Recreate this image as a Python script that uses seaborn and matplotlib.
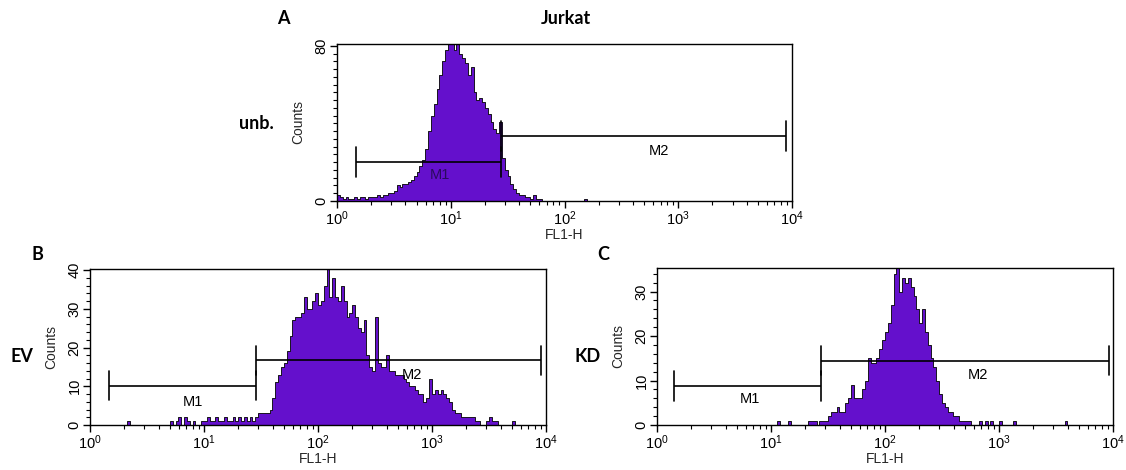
import numpy as np
import pandas as pd
import matplotlib
matplotlib.use("Agg")
import matplotlib.pyplot as plt
import seaborn as sns
from matplotlib.ticker import LogLocator, NullFormatter, FixedLocator, MultipleLocator

# ---------------- data (counts per log channel, 0.025 decade per channel, 10^0 .. 10^4) -------------
BIN_WIDTH = 0.025
N_BINS = 160

A_counts = ([3, 2, 1, 2, 1, 1, 2, 1, 2, 2,
             1, 2, 2, 2, 3, 2, 3, 3, 4, 4,
             5, 8, 7, 9, 9, 10, 11, 13, 15, 18,
             21, 27, 36, 44, 50, 58, 65, 72, 78, 82,
             81, 78, 82, 76, 74, 71, 65, 69, 56, 52,
             53, 51, 48, 45, 41, 37, 35, 41, 22, 16,
             13, 9, 6, 4, 3, 3, 2, 2, 1, 3,
             1, 1] + [0] * 15 + [1] + [0] * 72)

B_counts = ([0] * 13 + [1] + [0] * 14 +
            [1, 0, 1, 2, 0, 2, 1, 0, 1, 0, 0, 1,
             1, 2, 1, 1, 2, 1, 1, 2, 1, 1,
             2, 1, 2, 1, 2, 1, 2, 1, 2, 3,
             3, 3, 3, 4, 7, 11, 13, 15, 16, 19,
             23, 27, 28, 28, 29, 33, 30, 30, 32, 34,
             31, 32, 36, 41, 33, 38, 33, 32, 36, 32,
             28, 29, 31, 28, 25, 24, 27, 18, 15, 14,
             28, 16, 15, 15, 18, 14, 14, 13, 13, 13,
             12, 11, 10, 10, 9, 8, 8, 6, 7, 12,
             8, 9, 8, 9, 8, 7, 6, 4, 3, 3,
             2, 2, 2, 2, 2, 1, 1, 0, 0, 1,
             2, 1, 1, 0, 0, 0, 0, 0, 1, 0] + [0] * 10)

C_counts = ([0] * 42 + [1, 0, 0, 0, 1] + [0] * 6 +
            [1, 1, 1, 0, 1, 1, 1,
             2, 3, 3, 4, 3, 3, 5, 6, 9, 6,
             6, 6, 8, 10, 15, 14, 14, 15, 17, 19,
             21, 23, 27, 34, 36, 30, 33, 32, 33, 31,
             29, 26, 23, 26, 21, 18, 15, 13, 10, 7,
             5, 4, 3, 3, 2, 2, 1, 1, 1, 1,
             0, 0, 0, 1, 0, 1, 0, 1, 0, 0,
             1, 0, 0, 0, 0, 1, 0, 0, 0, 0] + [0] * 10 +
            [0, 0, 0, 1, 0, 0, 0, 0, 0, 0] + [0] * 10)

# marker gates: (low, high, level) and label positions
A_gates = [(1.47, 27.9, 20.0), (27.9, 8900, 33.4)]
B_gates = [(1.48, 28.3, 10.2), (28.3, 9040, 16.7)]
C_gates = [(1.42, 27.4, 8.85), (27.4, 9160, 14.5)]
gate_names = ["M1", "M2"]
A_label_pos = [(8.0, 13.6), (676, 25.7)]
B_label_pos = [(8.0, 6.0), (665, 13.0)]
C_label_pos = [(6.5, 5.8), (660, 11.3)]

A_yticks = [0, 80]
B_yticks = [0, 10, 20, 30, 40]
C_yticks = [0, 10, 20, 30]
A_ymax, B_ymax, C_ymax = 81.0, 40.3, 35.3
x_decades = [1, 10, 100, 1000, 10000]

# ---------------- style ----------------
sns.set_style("ticks")
plt.rcParams["font.family"] = ["Liberation Sans", "DejaVu Sans"]
plt.rcParams["mathtext.fontset"] = "custom"
plt.rcParams["mathtext.rm"] = "Liberation Sans"
plt.rcParams["mathtext.it"] = "Liberation Sans:italic"
plt.rcParams["mathtext.bf"] = "Liberation Sans:bold"

PURPLE = "#6410CC"
W, H = 1126, 470
fig = plt.figure(figsize=(W / 100, H / 100), dpi=100)


def px_axes(l, t, r, b):
    return fig.add_axes([l / W, 1 - b / H, (r - l) / W, (b - t) / H])


def draw_panel(ax, counts, ymax, yticks, yminor, gates, label_pos, m1_color="black"):
    n = len(counts)
    df = pd.DataFrame({"FL1-H": 10 ** (BIN_WIDTH * (np.arange(n) + 0.5)),
                       "Counts": counts})
    sns.histplot(data=df, x="FL1-H", weights="Counts", log_scale=True,
                 binwidth=BIN_WIDTH, binrange=(0, 4), element="step", fill=True,
                 color=PURPLE, edgecolor="black", linewidth=0.6, alpha=1, ax=ax)
    ax.set_xlim(1, 1e4)
    ax.set_ylim(0, ymax)
    ax.xaxis.set_major_locator(FixedLocator(x_decades))
    ax.xaxis.set_minor_locator(LogLocator(base=10, subs=np.arange(2, 10), numticks=20))
    ax.xaxis.set_minor_formatter(NullFormatter())
    ax.yaxis.set_major_locator(FixedLocator(yticks))
    ax.yaxis.set_minor_locator(MultipleLocator(yminor))
    ax.tick_params(which="major", direction="out", length=5, width=1.0,
                   labelsize=10.5, pad=1, color="black", labelcolor="black")
    ax.tick_params(which="minor", direction="out", length=3, width=0.8, color="black")
    for t in ax.get_yticklabels():
        t.set_rotation(90)
        t.set_va("center")
    for s in ax.spines.values():
        s.set_color("black")
        s.set_linewidth(1.0)
    ax.set_xlabel("FL1-H", fontsize=10, labelpad=0)
    ax.set_ylabel("Counts", fontsize=10, labelpad=7)
    half = 0.095 * ymax
    for (lo, hi, lev), name, (lx, ly) in zip(gates, gate_names, label_pos):
        ax.plot([lo, hi], [lev, lev], color="black", lw=1.2, solid_capstyle="butt")
        ax.plot([lo, lo], [lev - half, lev + half], color="black", lw=1.2)
        ax.plot([hi, hi], [lev - half, lev + half], color="black", lw=1.2)
        col = m1_color if name == "M1" else "black"
        ax.text(lx, ly, name, fontsize=10.5, ha="center", va="center", color=col)


axA = px_axes(337, 44, 792, 201)
axB = px_axes(90, 269, 546, 425)
axC = px_axes(657, 268, 1113, 425)

draw_panel(axA, A_counts, A_ymax, A_yticks, 4, A_gates, A_label_pos, m1_color="#2a0a5e")
draw_panel(axB, B_counts, B_ymax, B_yticks, 2, B_gates, B_label_pos)
draw_panel(axC, C_counts, C_ymax, C_yticks, 2, C_gates, C_label_pos)

# panel titles / labels
lab = dict(fontsize=13, fontweight="bold", family=["Lato", "DejaVu Sans"], color="black")


def ftext(x, y, s, ha="center"):
    fig.text(x / W, 1 - y / H, s, ha=ha, va="center", **lab)


ftext(283, 19, "A")
ftext(566, 19, "Jurkat")
ftext(274, 124, "unb.", ha="right")
ftext(37, 255, "B")
ftext(33, 356, "EV", ha="right")
ftext(603, 255, "C")
ftext(601, 356, "KD", ha="right")

fig.savefig("out.png", dpi=100)
